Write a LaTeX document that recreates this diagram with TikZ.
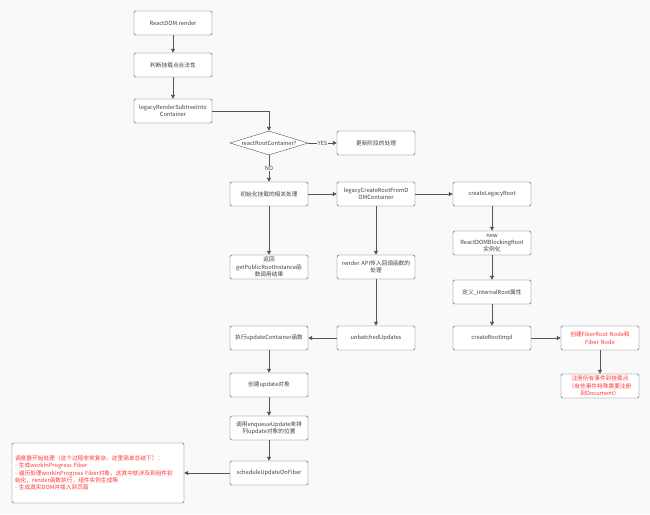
\documentclass[tikz,border=0pt]{standalone}
\usepackage{fontspec}
\setmainfont{Noto Sans CJK SC}
\usetikzlibrary{shapes.geometric,arrows.meta}
\definecolor{bg}{HTML}{F9F9F9}
\definecolor{boxline}{HTML}{555555}
\definecolor{redtext}{HTML}{FF3333}

\begin{document}
\begin{tikzpicture}[x=1pt,y=-1pt,
	    box/.style={draw=boxline,fill=white,rounded corners=1.5pt,minimum width=78pt,minimum height=24pt,inner sep=2pt,text width=74pt,align=center,font=\fontsize{5.7}{7.3}\selectfont,text=black!75},
	    decision/.style={diamond,draw=boxline,fill=white,aspect=3.25,inner sep=0.5pt,minimum width=78pt,minimum height=24pt,font=\fontsize{5.7}{7.3}\selectfont,text=black!75},
	    redbox/.style={box,text=redtext},
	    arr/.style={draw=boxline,line width=0.9pt,-{Triangle[length=4pt,width=4pt]}},
	    lbl/.style={fill=bg,inner sep=0.8pt,font=\fontsize{5.7}{7.3}\selectfont,text=black!70}]
	    \fill[bg] (0,0) rectangle (650,514);
	    \useasboundingbox (0,0) rectangle (650,514);
	    % left column
	    \node[box] (render) at (173,23) {ReactDOM.render};
	    \node[box] (check) at (173,65) {判断挂载点合法性};
	    \node[box] (legacy) at (173,111) {legacyRenderSubtreeInto\\Container};
	    \node[decision] (rootq) at (269,143) {reactRootContainer?};
	    \node[box] (update) at (376,143) {更新阶段的处理};
	    \node[box] (init) at (269,194) {初始化挂载的相关处理};
	    \node[box] (public) at (269,267) {返回\\getPublicRootInstance函\\数调用结果};
	    \node[box] (exec) at (269,338) {执行updateContainer函数};
	    \node[box] (mkupd) at (269,385) {创建update对象};
	    \node[box] (enqueue) at (269,428) {调用enqueueUpdate来排\\列update对象的位置};
	    \node[box] (sched) at (269,473) {scheduleUpdateOnFiber};
	    \node[redbox,minimum width=172pt,minimum height=60pt,text width=166pt,align=left,inner sep=3pt] (reconcile) at (98,473)
	        {调度器开始处理（这个过程非常复杂，这里简单总结下）：\\
	         - 生成workInProgress Fiber\\
	         - 遍历处理workInProgress Fiber对象，这其中就涉及到组件初\\
	         始化，render函数执行，组件实例生成等\\
	         - 生成真实DOM并插入到页面};
	    % middle column
	    \node[box] (fromdom) at (376,194) {legacyCreateRootFromD\\OMContainer};
	    \node[box] (callback) at (376,267) {render API传入回调函数的\\处理};
	    \node[box] (unbatch) at (376,338) {unbatchedUpdates};
	    % right column
	    \node[box] (legroot) at (492,194) {createLegacyRoot};
	    \node[box] (blocking) at (492,243) {new\\ReactDOMBlockingRoot\\实例化};
	    \node[box] (internal) at (492,292) {定义\_internalRoot属性};
	    \node[box] (impl) at (492,338) {createRootImpl};
	    \node[redbox] (fiber) at (600,338) {创建FiberRoot Node和\\Fiber Node};
	    \node[redbox] (events) at (600,386) {注册所有事件到挂载点\\（有些事件特殊需要注册\\到Document）};
	    % connectors
	    \draw[arr] (render) -- (check);
	    \draw[arr] (check) -- (legacy);
	    \draw[arr] (legacy.east) -| (rootq.north);
	    \draw[arr] (rootq) -- node[lbl] {YES} (update);
	    \draw[arr] (rootq) -- node[lbl] {NO} (init);
	    \draw[arr] (init) -- (fromdom);
	    \draw[arr] (fromdom) -- (legroot);
	    \draw[arr] (init) -- (public);
	    \draw[arr] (fromdom) -- (callback);
	    \draw[arr] (callback) -- (unbatch);
	    \draw[arr] (unbatch) -- (exec);
	    \draw[arr] (legroot) -- (blocking);
	    \draw[arr] (blocking) -- (internal);
	    \draw[arr] (internal) -- (impl);
	    \draw[arr] (impl) -- (fiber);
	    \draw[arr] (fiber) -- (events);
	    \draw[arr] (exec) -- (mkupd);
	    \draw[arr] (mkupd) -- (enqueue);
	    \draw[arr] (enqueue) -- (sched);
	    \draw[arr] (sched) -- (reconcile);
	\end{tikzpicture}
\end{document}
